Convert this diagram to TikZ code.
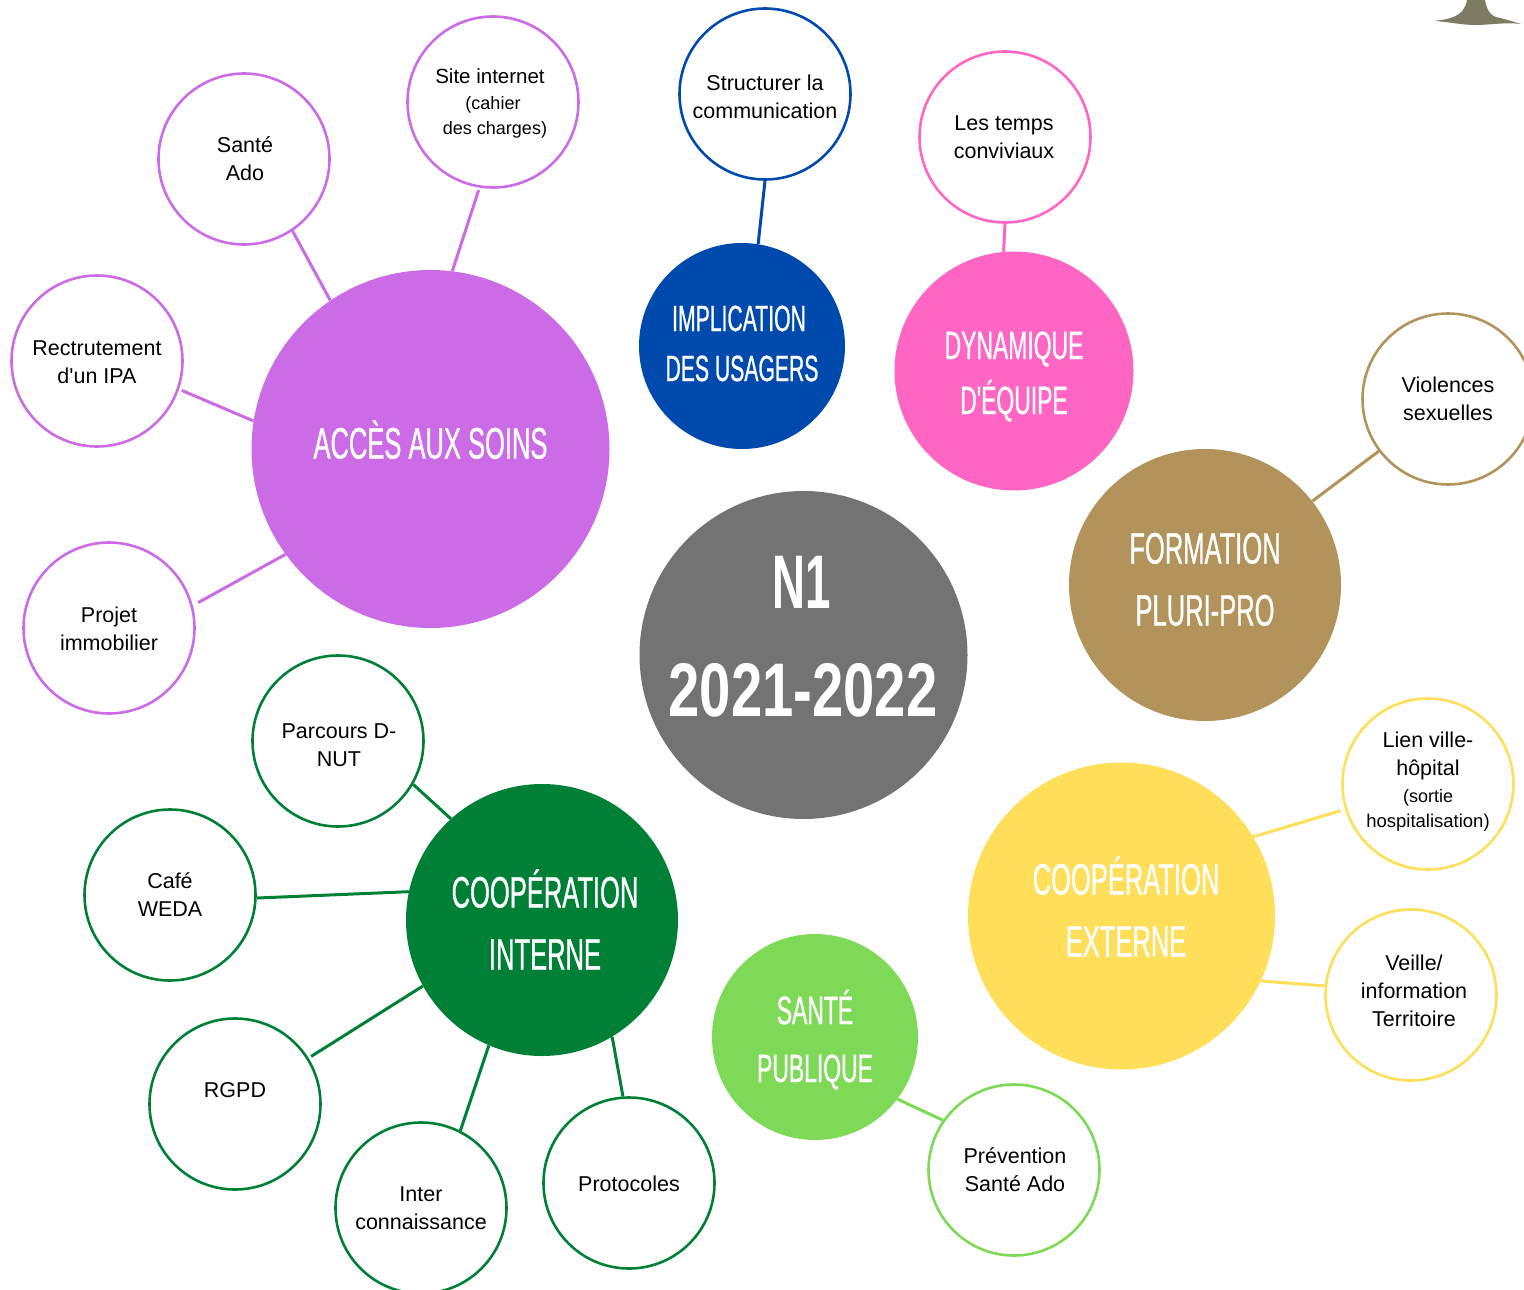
\documentclass[tikz,border=0pt]{standalone}
\usepackage{fontspec}
\usepackage{graphicx}
\setmainfont{Liberation Sans}
\newfontfamily\headfont[FakeStretch=0.58,FakeBold=0.7]{Liberation Sans}
\newfontfamily\bigdigits[FakeStretch=0.74]{Liberation Sans Bold}
\newfontfamily\bigletters[FakeStretch=0.6]{Liberation Sans Bold}
\definecolor{cpurple}{HTML}{CB6CE6}
\definecolor{cblue}{HTML}{004AAD}
\definecolor{cpink}{HTML}{FF66C4}
\definecolor{cbrown}{HTML}{B1935B}
\definecolor{cgrey}{HTML}{737373}
\definecolor{cyellow}{HTML}{FFDE59}
\definecolor{cgreen}{HTML}{008037}
\definecolor{clime}{HTML}{7ED957}
\definecolor{ctree}{HTML}{7D7B62}
\tikzset{
 x=1pt,y=-1pt,
 hub/.style={circle,inner sep=0pt,minimum size=#1*1pt},
 leaf/.style={circle,draw,line width=2.6pt,fill=white,inner sep=0pt,minimum size=171pt},
 link/.style={line width=3pt},
 lbl/.style={align=center,inner sep=0pt,text=black,font=\fontsize{21.5}{28}\selectfont},
 head/.style={inner sep=0pt,text=white},
}
\newcommand{\hd}[2]{{\headfont\fontsize{#1}{#1}\selectfont\smash{\raisebox{-0.33\dimexpr #1pt\relax}{#2}}}}
\newcommand{\bigd}[2]{{#2\fontsize{76}{76}\selectfont\smash{\raisebox{-27.2pt}{#1}}}}
\newcommand{\smalltxt}{\fontsize{18}{24.5}\selectfont}
\begin{document}
\begin{tikzpicture}
\useasboundingbox (0,0) rectangle (1524,1290);
\fill[ctree] (1434,21) .. controls (1450,19) and (1464,17) .. (1467,0) -- (1485,0) .. controls (1487,12) and (1492,17) .. (1500,18) .. controls (1508,20) and (1515,22) .. (1521,24) .. controls (1505,22) and (1490,25) .. (1475,25) .. controls (1462,25) and (1450,22) .. (1434,21) -- cycle;

% central
\node[hub=328,fill=cgrey] (center) at (803.5,655) {};
\node[head] (ct1) at (802,581) {\bigd{N1}{\bigletters}};
\node[head] (ct2) at (803,689.5) {\bigd{2021-2022}{\bigdigits}};

% hubs
\node[hub=358,fill=cpurple] (acces) at (430.5,449) {};
\node[head] (ta) at (430.5,444) {\hd{44}{ACCÈS AUX SOINS}};
\node[hub=206,fill=cblue] (usagers) at (742,346) {};
\node[head] (tu1) at (739,319) {\hd{36.5}{IMPLICATION}};
\node[head] (tu2) at (742,369) {\hd{36.5}{DES USAGERS}};
\node[hub=239,fill=cpink] (dyn) at (1014,371) {};
\node[head] (td1) at (1014,346) {\hd{39.5}{DYNAMIQUE}};
\node[head] (td2) at (1014,401) {\hd{39.5}{D'ÉQUIPE}};
\node[hub=272,fill=cbrown] (form) at (1205,585) {};
\node[head] (tf1) at (1205,549) {\hd{44}{FORMATION}};
\node[head] (tf2) at (1205,611) {\hd{44}{PLURI-PRO}};
\node[hub=307,fill=cyellow] (ext) at (1121.5,916) {};
\node[head] (te1) at (1126,880) {\hd{44}{COOPÉRATION}};
\node[head] (te2) at (1126,942) {\hd{44}{EXTERNE}};
\node[hub=206,fill=clime] (sante) at (815,1037) {};
\node[head] (ts1) at (815,1011) {\hd{39.5}{SANTÉ}};
\node[head] (ts2) at (815,1069) {\hd{39.5}{PUBLIQUE}};
\node[hub=272,fill=cgreen] (int) at (542,920) {};
\node[head] (ti1) at (545,893) {\hd{44}{COOPÉRATION}};
\node[head] (ti2) at (545,955) {\hd{44}{INTERNE}};

% leaves
\node[leaf,draw=cpurple] (l1) at (244,159) {};
\node[lbl] (t1) at (245,159) {Santé\\Ado};
\node[leaf,draw=cpurple] (l2) at (493,102) {};
\node[lbl] (t2) at (490,103) {{\fontsize{20.5}{28}\selectfont Site internet}\\[-1.5pt]{\smalltxt\hspace*{6pt}(cahier}\\[-3.5pt]{\smalltxt\hspace*{10pt}des charges)}};
\node[leaf,draw=cpurple] (l3) at (97,361) {};
\node[lbl] (t3) at (97,362) {Rectrutement\\d\textquotesingle un IPA};
\node[leaf,draw=cpurple] (l4) at (109,628) {};
\node[lbl] (t4) at (109,629) {Projet\\immobilier};
\node[leaf,draw=cblue] (l5) at (765,94) {};
\node[lbl] (t5) at (765,97) {Structurer la\\communication};
\node[leaf,draw=cpink] (l6) at (1005,137) {};
\node[lbl] (t6) at (1004,137) {Les temps\\conviviaux};
\node[leaf,draw=cbrown] (l7) at (1448,399) {};
\node[lbl] (t7) at (1448,399) {Violences\\sexuelles};
\node[leaf,draw=cyellow] (l8) at (1428,784) {};
\node[lbl] (t8) at (1428,782) {Lien ville-\\hôpital\\[-1pt]{\smalltxt (sortie}\\[-3pt]{\fontsize{18.5}{24.5}\selectfont hospitalisation)}};
\node[leaf,draw=cyellow] (l9) at (1411,995) {};
\node[lbl] (t9) at (1414,991) {Veille/\\information\\Territoire};
\node[leaf,draw=clime] (l10) at (1014,1170) {};
\node[lbl] (t10) at (1015,1170) {Prévention\\Santé Ado};
\node[leaf,draw=cgreen] (l11) at (629,1183) {};
\node[lbl] (t11) at (629,1184) {Protocoles};
\node[leaf,draw=cgreen] (l12) at (421,1208) {};
\node[lbl] (t12) at (421,1208) {Inter\\connaissance};
\node[leaf,draw=cgreen] (l13) at (235,1104) {};
\node[lbl] (t13) at (235,1090) {RGPD};
\node[leaf,draw=cgreen] (l14) at (170,895) {};
\node[lbl] (t14) at (170,895) {Café\\WEDA};
\node[leaf,draw=cgreen] (l15) at (338,741) {};
\node[lbl] (t15) at (339,745) {Parcours D-\\NUT};

% connectors
\begin{scope}[link]
\draw[cpurple] (l1.-56.9) -- (acces.124.8);
\draw[cpurple,shorten <=2.5pt] (l2.-99) -- (acces.83.8);
\draw[cpurple,shorten <=3pt] (l3.-19.7) -- (acces.171.9);
\draw[cpurple,shorten <=6pt] (l4.15.7) -- (acces.-144.6);
\draw[cblue] (l5.-90.7) -- (usagers.81.1);
\draw[cpink] (l6.-90.7) -- (dyn.95.3);
\draw[cbrown] (l7.-143.1) -- (form.38.7);
\draw[cyellow,shorten <=4.5pt] (l8.-163.4) -- (ext.31);
\draw[cyellow] (l9.174.7) -- (ext.-25.5);
\draw[clime] (l10.145.4) -- (sante.-37.1);
\draw[cgreen] (l11.94.7) -- (int.-59.6);
\draw[cgreen] (l12.63.7) -- (int.-113.1);
\draw[cgreen,shorten <=3pt] (l13.32.6) -- (int.-151.8);
\draw[cgreen] (l14.-2.6) -- (int.168.4);
\draw[cgreen] (l15.-30.7) -- (int.132.6);
\end{scope}
\end{tikzpicture}
\end{document}
